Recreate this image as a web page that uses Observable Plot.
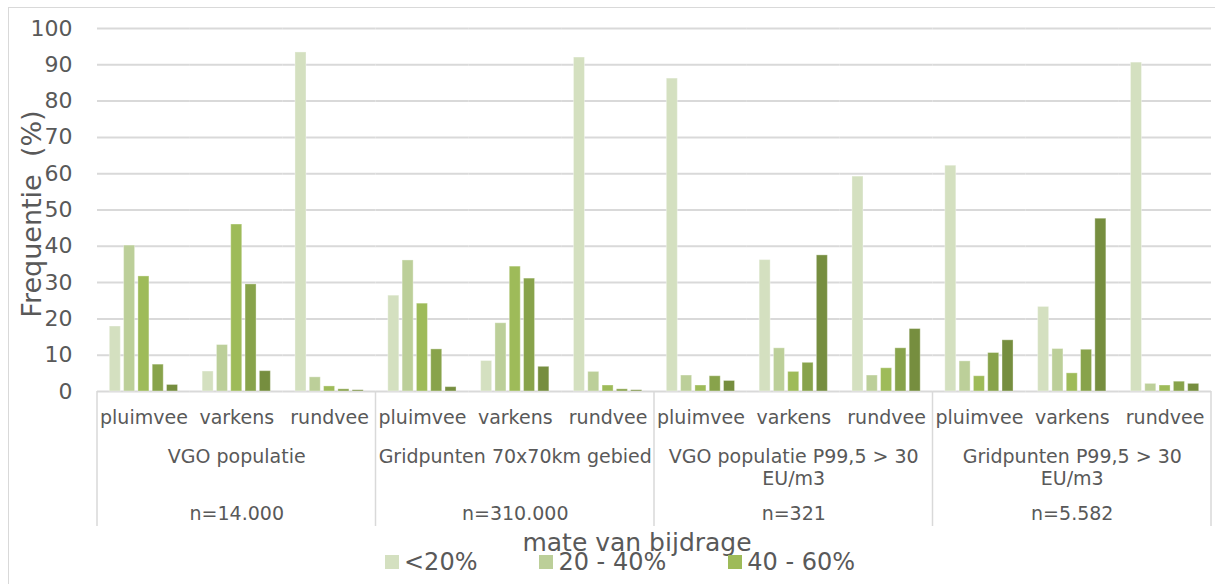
<!DOCTYPE html>
<html>
<head>
<meta charset="utf-8">
<script src="https://cdn.jsdelivr.net/npm/d3@7"></script>
<script src="https://cdn.jsdelivr.net/npm/@observablehq/plot@0.6"></script>
<style>
  html, body { margin: 0; padding: 0; background: #fff; }
  #wrap { position: relative; width: 1215px; height: 584px; overflow: hidden; font-family: "DejaVu Sans", Verdana, sans-serif; color: #595959; }
  #border { position: absolute; left: 8px; top: 7px; width: 1260px; height: 640px; border: 1px solid #d9d9d9; box-sizing: border-box; pointer-events: none; }
  #chart svg { display: block; }
  #xtitle { width: 1274px; text-align: center; font-size: 25px; line-height: 25px; height: 25px; white-space: nowrap; }
  #legend { display: flex; flex-wrap: wrap; column-gap: 62px; row-gap: 120px; width: 560px; margin-left: 385px; margin-top: -6px; font-size: 24px; line-height: 26px; }
  #legend .item { display: flex; align-items: center; white-space: nowrap; }
  #legend .sw { width: 14px; height: 14px; margin-right: 5px; flex: none; }
</style>
</head>
<body>
<div id="wrap">
  <div id="border"></div>
  <div id="chart"></div>
  <div id="xtitle"></div>
  <div id="legend"></div>
</div>
<script>
// ---- data ----
const groups = ["VGO populatie", "Gridpunten 70x70km gebied", "VGO populatie P99,5 > 30\nEU/m3", "Gridpunten P99,5 > 30\nEU/m3"];
const groupN = ["n=14.000", "n=310.000", "n=321", "n=5.582"];
const animals = ["pluimvee", "varkens", "rundvee"];
const classes = ["<20%", "20 - 40%", "40 - 60%", "60 - 80%", "80 - 100%"];
const classColors = ["#d4e0c0", "#bccf99", "#9ebb59", "#88a34b", "#768e3f"];
const yTicks = [0, 10, 20, 30, 40, 50, 60, 70, 80, 90, 100];
const yTitle = "Frequentie\u00a0\u00a0(%)";
const xTitle = "mate van bijdrage";

// values[group][animal] = frequencies per class
const vgoPop = [
  [17.9, 40.2, 31.7, 7.4, 1.8],
  [5.5, 12.8, 46.0, 29.5, 5.6],
  [93.4, 3.9, 1.4, 0.6, 0.35]
];
const grid70 = [
  [26.4, 36.1, 24.2, 11.6, 1.2],
  [8.4, 18.8, 34.4, 31.1, 6.8],
  [92.0, 5.4, 1.65, 0.6, 0.35]
];
const vgoP995 = [
  [86.2, 4.4, 1.65, 4.2, 2.9],
  [36.2, 11.9, 5.4, 7.9, 37.5],
  [59.2, 4.4, 6.4, 11.9, 17.2]
];
const gridP995 = [
  [62.2, 8.3, 4.2, 10.6, 14.1],
  [23.3, 11.7, 5.0, 11.5, 47.6],
  [90.6, 2.1, 1.65, 2.7, 2.1]
];
const values = [vgoPop, grid70, vgoP995, gridP995];

// ---- tables built from the arrays ----
const keyOf = (gi, a) => gi + "|" + a;
const fxDomain = groups.flatMap((g, gi) => animals.map(a => keyOf(gi, a)));
const rows = [];
groups.forEach((g, gi) => animals.forEach((a, ai) => classes.forEach((c, ci) => {
  rows.push({key: keyOf(gi, a), group: g, animal: a, cls: c, value: values[gi][ai][ci]});
})));
const subRows = groups.flatMap((g, gi) => animals.map(a => ({key: keyOf(gi, a), animal: a})));
const groupRows = groups.map((g, gi) => ({key: keyOf(gi, animals[1]), label: g, n: groupN[gi]}));
const groupStarts = groups.map((g, gi) => keyOf(gi, animals[0]));
const lastKey = fxDomain[fxDomain.length - 1];

// Separator lines of the category table, placed with the fx scale
class TableLines extends Plot.Mark {
  constructor(starts, end) {
    super(undefined, {}, {facet: "super"});
    this.starts = starts;
    this.end = end;
  }
  render(index, scales, values, dimensions) {
    const {fx, y} = scales;
    const xs = this.starts.map(k => fx(k)).concat([fx(this.end) + fx.bandwidth()]);
    const y0 = y(0);
    const g = d3.create("svg:g").attr("stroke", "#d9d9d9").attr("stroke-width", 1.5);
    g.selectAll("line").data(xs).join("line")
      .attr("x1", d => d).attr("x2", d => d)
      .attr("y1", y0).attr("y2", dimensions.height - 4);
    return g.node();
  }
}

const plot = Plot.plot({
  width: 1215,
  height: 530,
  marginLeft: 97,
  marginRight: 4,
  marginTop: 28,
  marginBottom: 139,
  style: {fontFamily: "DejaVu Sans, Verdana, sans-serif", fontSize: "19px", color: "#595959", background: "transparent", overflow: "visible"},
  fx: {domain: fxDomain, padding: 0, round: false, axis: null},
  x: {domain: classes, paddingInner: 0.23, paddingOuter: 0.86, round: false, axis: null},
  y: {domain: [0, 100]},
  color: {domain: classes, range: classColors},
  marks: [
    Plot.gridY(yTicks, {stroke: "#d9d9d9", strokeOpacity: 1, strokeWidth: 2}),
    Plot.axisY(yTicks, {tickSize: 0, tickPadding: 25, fontSize: 22, label: null}),
    Plot.barY(rows, {fx: "key", x: "cls", y: "value", fill: "cls", stroke: "#ffffff", strokeOpacity: 0.35, strokeWidth: 1}),
    Plot.text(subRows, {fx: "key", text: "animal", frameAnchor: "bottom", dy: 19, lineAnchor: "top", fontSize: 19}),
    Plot.text(groupRows, {fx: "key", text: "label", frameAnchor: "bottom", dy: 56, lineAnchor: "top", lineHeight: 1.14, fontSize: 19}),
    Plot.text(groupRows, {fx: "key", text: "n", frameAnchor: "bottom", dy: 114.5, lineAnchor: "top", fontSize: 19}),
    Plot.text([yTitle], {facet: "super", frameAnchor: "left", rotate: -90, dx: -65, dy: 4, fontSize: 27, lineAnchor: "middle", textAnchor: "middle"}),
    new TableLines(groupStarts, lastKey)
  ]
});
document.getElementById("chart").appendChild(plot);

document.getElementById("xtitle").textContent = xTitle;
const legend = d3.select("#legend");
classes.forEach((c, i) => {
  const item = legend.append("div").attr("class", "item");
  item.append("div").attr("class", "sw").style("background", classColors[i]);
  item.append("span").text(c);
});
</script>
</body>
</html>
